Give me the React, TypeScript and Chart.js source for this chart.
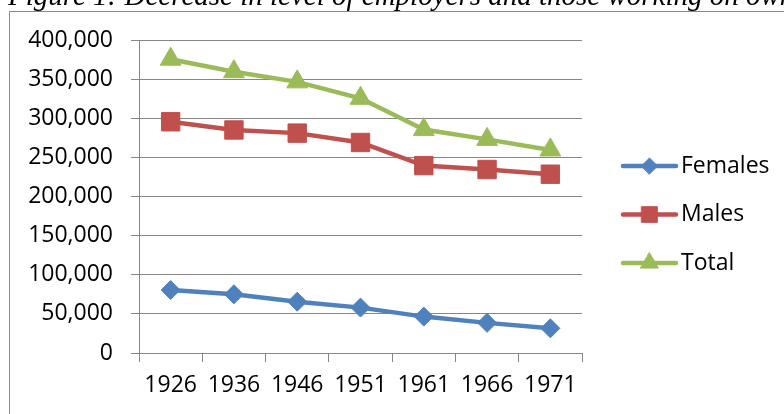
import React, { useEffect, useRef } from "react";
import { Chart, registerables } from "chart.js";
import { drawPoint } from "chart.js/helpers";

Chart.register(...registerables);

const caption = "Figure 1: Decrease in level of employers and those working on own account";
const years = ["1926", "1936", "1946", "1951", "1961", "1966", "1971"];
const females = [80500, 75000, 65500, 58000, 46500, 38500, 31500];
const males = [295500, 285000, 281000, 269000, 239500, 234500, 228500];
const total = [375500, 359500, 346500, 325500, 285500, 273000, 259500];
const yTicksMin = 0;
const yTicksMax = 400000;
const yTicksStep = 50000;

const FONT = "'Open Sans', 'Noto Sans', sans-serif";
const GRID = "#868686";

const seriesStyles = [
  { label: "Females", data: females, color: "#4F81BD", pointStyle: "rectRot", radius: 9.5 },
  { label: "Males", data: males, color: "#C0504D", pointStyle: "rect", radius: 13 },
  { label: "Total", data: total, color: "#9BBB59", pointStyle: "triangle", radius: 12 },
];

const decorPlugin = {
  id: "decor",
  beforeDraw(chart: any) {
    const ctx = chart.ctx;
    ctx.save();
    ctx.fillStyle = "#ffffff";
    ctx.fillRect(0, 0, chart.width, chart.height);
    ctx.strokeStyle = "#8a8a8a";
    ctx.lineWidth = 1;
    ctx.beginPath();
    ctx.moveTo(9.5, chart.height + 5);
    ctx.lineTo(9.5, 11.5);
    ctx.lineTo(chart.width + 5, 11.5);
    ctx.stroke();
    ctx.fillStyle = "#000000";
    ctx.font = "italic 29px 'Liberation Serif', 'Times New Roman', serif";
    ctx.textBaseline = "alphabetic";
    ctx.textAlign = "left";
    ctx.fillText(caption, 8, 5);
    ctx.restore();
  },
  afterDraw(chart: any) {
    const ctx = chart.ctx;
    const ys = [166, 214.5, 263];
    ctx.save();
    chart.data.datasets.forEach((ds: any, i: number) => {
      const y = ys[i];
      ctx.strokeStyle = ds.borderColor;
      ctx.lineWidth = 4.5;
      ctx.lineCap = "round";
      ctx.beginPath();
      ctx.moveTo(623, y);
      ctx.lineTo(676, y);
      ctx.stroke();
      ctx.fillStyle = ds.borderColor;
      ctx.strokeStyle = ds.borderColor;
      ctx.lineWidth = 1;
      drawPoint(ctx, { pointStyle: ds.pointStyle, rotation: 0, radius: ds.pointRadius * 0.85, borderWidth: 1 } as any, 649.5, y);
      ctx.fillStyle = "#000000";
      ctx.font = `23px ${FONT}`;
      ctx.textBaseline = "middle";
      ctx.textAlign = "left";
      ctx.fillText(ds.label, 681, y);
    });
    ctx.restore();
  },
};

export default function App() {
  const ref = useRef<HTMLCanvasElement | null>(null);
  useEffect(() => {
    if (!ref.current) return;
    const chart = new Chart(ref.current, {
      type: "line",
      data: {
        labels: years,
        datasets: seriesStyles.map((s) => ({
          label: s.label,
          data: s.data,
          borderColor: s.color,
          backgroundColor: s.color,
          borderWidth: 4.5,
          pointStyle: s.pointStyle as any,
          pointRadius: s.radius,
          pointHoverRadius: s.radius,
          pointBackgroundColor: s.color,
          pointBorderColor: s.color,
          pointBorderWidth: 1,
          tension: 0,
          fill: false,
        })),
      },
      options: {
        responsive: false,
        animation: false,
        devicePixelRatio: 1,
        layout: { padding: { top: 40, right: 202, left: 0, bottom: 0 } },
        plugins: { legend: { display: false }, tooltip: { enabled: false } },
        scales: {
          x: {
            type: "category",
            offset: true,
            grid: {
              offset: true,
              drawOnChartArea: false,
              drawTicks: true,
              tickLength: 9,
              color: GRID,
              lineWidth: 1,
            },
            border: { display: true, color: GRID, width: 1 },
            ticks: {
              color: "#000000",
              font: { family: FONT, size: 23 },
              padding: 10,
              maxRotation: 0,
              autoSkip: false,
            },
            afterFit: (s: any) => {
              s.height = 61;
            },
          },
          y: {
            min: yTicksMin,
            max: yTicksMax,
            grid: { color: GRID, lineWidth: 1, tickLength: 8, drawTicks: true },
            border: { display: true, color: GRID, width: 1 },
            ticks: {
              stepSize: yTicksStep,
              color: "#000000",
              font: { family: FONT, size: 23 },
              padding: 18,
              callback: (v: any) => Number(v).toLocaleString("en-US"),
            },
            afterFit: (s: any) => {
              s.width = 139;
            },
          },
        },
      },
      plugins: [decorPlugin],
    });
    return () => chart.destroy();
  }, []);
  return (
    <div style={{ position: "fixed", left: 0, top: 0, width: 784, height: 414, overflow: "hidden", background: "#fff" }}>
      <canvas ref={ref} width={784} height={414} style={{ display: "block", width: 784, height: 414 }} />
    </div>
  );
}
